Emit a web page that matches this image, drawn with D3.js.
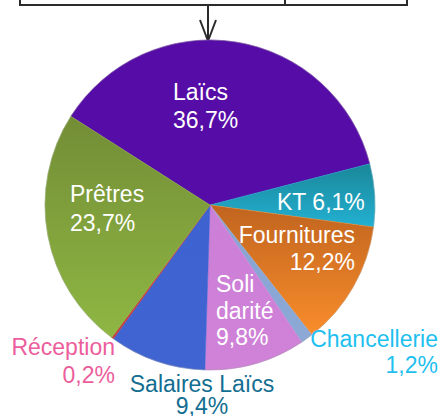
<!DOCTYPE html>
<html>
<head>
<meta charset="utf-8">
<script src="https://cdn.jsdelivr.net/npm/d3@7"></script>
<style>
  html, body { margin: 0; padding: 0; background: #fff; }
  svg { display: block; }
  text { font-family: "Liberation Sans", Arial, sans-serif; font-size: 23px; }
</style>
</head>
<body>
<svg id="chart" width="441" height="416"></svg>
<script>
  // budget shares, clockwise from the Laïcs slice
  const categories = ["Laïcs", "KT", "Fournitures", "Chancellerie", "Solidarité", "Salaires Laïcs", "Réception", "Prêtres"];
  const shares = [36.7, 6.1, 12.2, 1.2, 9.8, 9.4, 0.2, 23.7];
  const nameLines = [["Laïcs"], ["KT"], ["Fournitures"], ["Chancellerie"], ["Soli", "darité"], ["Salaires Laïcs"], ["Réception"], ["Prêtres"]];

  const width = 441;
  const height = 416;
  const cx = 210;
  const cy = 205;
  const radius = 165;

  // fill: [top colour, bottom colour]
  const fills = [
    ["#560ca6", "#560ca6"],
    ["#1a8799", "#23b0d2"],
    ["#c0641f", "#f98d2b"],
    ["#88a3d2", "#8ca9d6"],
    ["#cc7fd6", "#cf82d8"],
    ["#3e62cf", "#4064d2"],
    ["#c0393a", "#c43c3c"],
    ["#738d36", "#8fb743"]
  ];

  // label placement relative to pie centre
  const labelLayout = [
    { dx: -37, dy: -105, anchor: "start", color: "#fff", lh: 28 },
    { dx: 67, dy: 5, anchor: "start", color: "#fff", lh: 28, inline: true },
    { dx: 145, dy: 38, anchor: "end", color: "#fff", lh: 27 },
    { dx: 228, dy: 142, anchor: "end", color: "#1fbff0", lh: 26 },
    { dx: 6, dy: 87, anchor: "start", color: "#fff", lh: 26.5 },
    { dx: -8, dy: 187, anchor: "middle", color: "#136e91", lh: 22 },
    { dx: -95, dy: 150, anchor: "end", color: "#ec5d9c", lh: 28 },
    { dx: -140, dy: -3, anchor: "start", color: "#fff", lh: 29 }
  ];

  const fmt = (v) => d3.format(".1f")(v).replace(".", ",") + "%";

  const svg = d3.select("#chart");
  const defs = svg.append("defs");

  fills.forEach((f, i) => {
    const grad = defs.append("linearGradient")
      .attr("id", "grad" + i)
      .attr("x1", 0).attr("y1", 0).attr("x2", 0).attr("y2", 1);
    grad.append("stop").attr("offset", "0%").attr("stop-color", f[0]);
    grad.append("stop").attr("offset", "100%").attr("stop-color", f[1]);
  });

  // bracket line and arrow above the pie
  const bracket = svg.append("g").attr("stroke", "#2b2b2b").attr("stroke-width", 2).attr("fill", "none");
  bracket.append("path").attr("d", "M20,0V5H407V0M285,0V5");
  bracket.append("path").attr("d", `M${cx - 2},5V41`);
  bracket.append("path").attr("d", `M${cx - 10},20L${cx - 2},41L${cx + 6},20`);

  const startAngle = -57.5 * Math.PI / 180;
  const pie = d3.pie()
    .sort(null)
    .value((d) => d)
    .startAngle(startAngle)
    .endAngle(startAngle + 2 * Math.PI);

  const arc = d3.arc().innerRadius(0).outerRadius(radius);

  const pieLayer = svg.append("g").attr("transform", `translate(${cx},${cy})`);

  pieLayer.selectAll("path.slice")
    .data(pie(shares))
    .join("path")
    .attr("class", "slice")
    .attr("d", arc)
    .attr("fill", (d, i) => `url(#grad${i})`)
    .attr("stroke", (d, i) => fills[i][1])
    .attr("stroke-width", 0.5);

  // thin grey rim
  pieLayer.append("circle")
    .attr("r", radius)
    .attr("fill", "none")
    .attr("stroke", "#9a9a9a")
    .attr("stroke-width", 0.6)
    .attr("stroke-opacity", 0.6);

  const labels = svg.append("g").attr("transform", `translate(${cx},${cy})`);
  categories.forEach((name, i) => {
    const lay = labelLayout[i];
    let lines;
    if (lay.inline) lines = [nameLines[i].join(" ") + " " + fmt(shares[i])];
    else lines = nameLines[i].concat([fmt(shares[i])]);
    const t = labels.append("text")
      .attr("text-anchor", lay.anchor)
      .attr("fill", lay.color);
    lines.forEach((line, k) => {
      t.append("tspan")
        .attr("x", lay.dx)
        .attr("y", lay.dy + k * lay.lh)
        .text(line);
    });
  });
</script>
</body>
</html>
